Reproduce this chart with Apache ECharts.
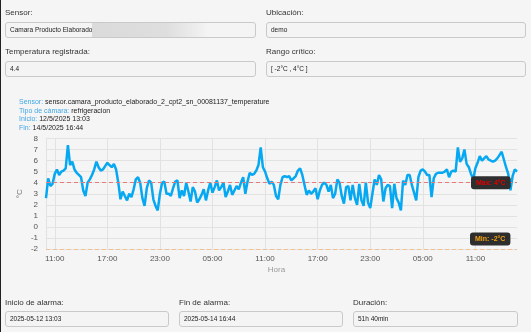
<!DOCTYPE html>
<html>
<head>
<meta charset="utf-8">
<script src="https://cdn.jsdelivr.net/npm/echarts@6/dist/echarts.min.js"></script>
<style>
  html, body { margin: 0; padding: 0; width: 531px; height: 332px; overflow: hidden; background: #f5f5f5; font-family: 'Liberation Sans', Arial, sans-serif; }
  #chart { position: absolute; left: 0; top: 0; width: 531px; height: 332px; }
  .lbl { position: absolute; font-size: 8px; color: #333; line-height: 10px; }
  .inp { position: absolute; box-sizing: border-box; height: 16px; border: 1px solid #c9c9c9; border-radius: 3px; background: #f4f4f4; font-size: 6.5px; color: #222; line-height: 14px; padding-left: 4px; white-space: nowrap; overflow: hidden; }
  #leftbar { position: absolute; left: 0; top: 0; width: 1px; height: 332px; background: #222; }
  #blur { position: absolute; left: 92px; top: 23px; width: 116px; height: 14px; background: linear-gradient(to right, #dadada 0%, #dedede 65%, rgba(244,244,244,0) 100%); filter: blur(0.6px); }
</style>
</head>
<body>
<div id="chart"></div>
<div id="leftbar"></div>

<div class="lbl" style="left:5px;top:8px;">Sensor:</div>
<div class="inp" style="left:5px;top:22px;width:251px;">Camara Producto Elaborado</div>
<div id="blur"></div>
<div class="lbl" style="left:266px;top:8px;">Ubicación:</div>
<div class="inp" style="left:266px;top:22px;width:260px;">demo</div>

<div class="lbl" style="left:5px;top:47px;">Temperatura registrada:</div>
<div class="inp" style="left:5px;top:61px;width:251px;">4.4</div>
<div class="lbl" style="left:266px;top:47px;">Rango crítico:</div>
<div class="inp" style="left:266px;top:61px;width:260px;">[ -2°C , 4°C ]</div>

<div class="lbl" style="left:5px;top:298px;">Inicio de alarma:</div>
<div class="inp" style="left:5px;top:311px;width:164px;">2025-05-12 13:03</div>
<div class="lbl" style="left:179px;top:298px;">Fin de alarma:</div>
<div class="inp" style="left:179px;top:311px;width:164px;">2025-05-14 16:44</div>
<div class="lbl" style="left:353px;top:298px;">Duración:</div>
<div class="inp" style="left:353px;top:311px;width:165px;">51h 40min</div>

<script>
// ---- data ----
const sensorName = 'sensor.camara_producto_elaborado_2_cpt2_sn_00081137_temperature';
const cameraType = 'refrigeracion';
const startText = '12/5/2025 13:03';
const endText = '14/5/2025 16:44';
const maxLimit = 4;
const minLimit = -2;
const tickLabels = ['05:00', '11:00', '17:00', '23:00'];
const firstSampleMinute = 600;   // 10:00 on day 1
const sampleStepMinutes = 15;

// readings, one every 15 minutes
const tempsDay1 = [ // 10:00 - 23:45
  2.6, 4.4, 3.7, 3.9, 4.8, 5.2, 4.7, 5.0, 5.1, 5.3, 7.4, 5.6, 5.9, 5.2, 4.9, 4.7,
  4.5, 3.3, 2.8, 4.0, 4.3, 4.7, 5.2, 5.9, 5.4, 5.1, 5.2, 5.5, 5.8, 5.6, 5.4, 5.7,
  5.2, 4.0, 2.5, 3.2, 2.8, 2.4, 3.0, 2.7, 3.4, 4.3, 4.5, 4.0, 2.6, 1.9, 3.5, 4.2,
  4.0, 2.5, 1.9, 1.5, 3.0, 4.0, 4.1, 3.0
];
const tempsDay2 = [ // 00:00 - 23:45
  3.0, 2.8, 3.5, 4.1, 4.2, 2.6, 3.3, 2.8, 4.0, 3.2, 2.3, 3.6, 3.2, 2.2, 2.5, 2.9,
  3.4, 2.4, 3.3, 4.0, 3.1, 3.6, 4.2, 3.3, 3.6, 4.0, 2.7, 3.2, 3.8, 2.9, 3.3, 3.7,
  3.4, 4.0, 4.5, 3.0, 4.1, 4.9, 4.7, 4.8, 5.1, 5.6, 7.2, 5.4, 5.0, 4.4, 3.9, 4.1,
  3.8, 2.8, 2.5, 3.8, 4.5, 4.6, 4.5, 4.6, 4.2, 4.4, 4.6, 5.1, 5.3, 4.7, 3.8, 2.9,
  3.3, 3.0, 3.2, 3.5, 2.5, 3.3, 3.8, 4.0, 3.8, 3.2, 3.8, 2.6, 3.0, 4.3, 4.0, 2.8,
  2.1, 3.6, 3.7, 2.4, 3.8, 2.6, 2.0, 3.9, 2.4, 1.9, 4.0, 2.2, 1.7, 3.0, 4.3, 3.8
];
const tempsDay3 = [ // 00:00 - 15:45
  4.7, 4.3, 2.3, 3.5, 3.8, 3.7, 1.7, 3.9, 2.6, 2.2, 1.5, 4.2, 3.8, 4.7, 4.7, 3.8,
  3.1, 2.4, 4.5, 5.1, 5.2, 5.0, 4.7, 4.7, 2.7, 4.4, 4.8, 4.9, 4.9, 4.9, 5.0, 5.2,
  4.5, 5.0, 5.1, 5.0, 7.2, 5.9, 6.2, 7.0, 5.7, 5.4, 4.8, 4.3, 5.3, 5.8, 6.4, 6.0,
  6.2, 6.4, 6.1, 6.0, 5.9, 6.0, 6.2, 6.5, 6.8, 6.1, 5.4, 4.8, 3.3, 4.6, 5.2, 5.0
];

const temps = tempsDay1.concat(tempsDay2, tempsDay3);
const pad = n => (n < 10 ? '0' : '') + n;
const categories = temps.map((_, i) => {
  const m = (firstSampleMinute + sampleStepMinutes * i) % 1440;
  return pad(Math.floor(m / 60)) + ':' + pad(m % 60);
});
const showTick = (index, value) => tickLabels.indexOf(value) >= 0;

const FONT = "'Liberation Sans', Arial, sans-serif";
const chart = echarts.init(document.getElementById('chart'), null, { renderer: 'canvas' });
chart.setOption({
  backgroundColor: 'transparent',
  animation: false,
  title: {
    left: 14, top: 93,
    text: '{k|Sensor:} {v|' + sensorName + '}\n{k|Tipo de cámara:} {v|' + cameraType + '}\n{k|Inicio:} {v|' + startText + '}\n{k|Fin:} {v|' + endText + '}',
    textStyle: {
      fontFamily: FONT, fontSize: 7, lineHeight: 8.6, fontWeight: 'normal',
      rich: {
        k: { color: '#3fa6e6', fontSize: 7, fontFamily: FONT, lineHeight: 8.6 },
        v: { color: '#222', fontSize: 7, fontFamily: FONT, lineHeight: 8.6 }
      }
    }
  },
  grid: { left: 46, right: 14, top: 138.5, bottom: 83 },
  xAxis: {
    type: 'category',
    data: categories,
    boundaryGap: false,
    name: 'Hora',
    nameLocation: 'middle',
    nameGap: 17,
    nameMoveOverlap: false,
    nameTextStyle: { color: '#999', fontSize: 8, fontFamily: FONT, padding: [0, 10, 0, 0] },
    axisLine: { show: false },
    axisTick: { show: false, interval: showTick },
    axisLabel: { interval: showTick, color: '#555', fontSize: 8, fontFamily: FONT, margin: 6 },
    splitLine: { show: true, interval: showTick, lineStyle: { color: '#e2e2e2', width: 1 } }
  },
  yAxis: {
    type: 'value',
    min: -2, max: 8, interval: 1,
    name: '°C',
    nameLocation: 'middle',
    nameGap: 22,
    nameMoveOverlap: false,
    nameTextStyle: { color: '#777', fontSize: 8, fontFamily: FONT },
    axisLine: { show: true, lineStyle: { color: '#e2e2e2' } },
    axisTick: { show: false },
    axisLabel: { color: '#555', fontSize: 8, fontFamily: FONT, margin: 8 },
    splitLine: { lineStyle: { color: '#e2e2e2', width: 1 } }
  },
  series: [{
    type: 'line',
    data: temps,
    showSymbol: false,
    symbol: 'none',
    lineStyle: { color: '#06a8f2', width: 2.5 },
    itemStyle: { color: '#06a8f2' },
    markLine: {
      silent: true,
      symbol: 'none',
      data: [
        {
          yAxis: maxLimit,
          lineStyle: { color: '#e77b7b', type: [4, 3], width: 1 },
          label: {
            show: true, position: 'end', formatter: 'Max: ' + maxLimit + '°C',
            color: '#e00000', fontSize: 7, fontWeight: 'bold', fontFamily: FONT,
            backgroundColor: '#2e2e2e', borderRadius: 3, padding: [3, 5],
            offset: [-51, 0]
          }
        },
        {
          yAxis: minLimit,
          lineStyle: { color: '#f2c08c', type: [4, 3], width: 1 },
          label: {
            show: true, position: 'end', formatter: 'Min: ' + minLimit + '°C',
            color: '#f0a010', fontSize: 7, fontWeight: 'bold', fontFamily: FONT,
            backgroundColor: '#2e2e2e', borderRadius: 3, padding: [3, 5],
            offset: [-52, -10]
          }
        }
      ]
    }
  }]
});
</script>
</body>
</html>
